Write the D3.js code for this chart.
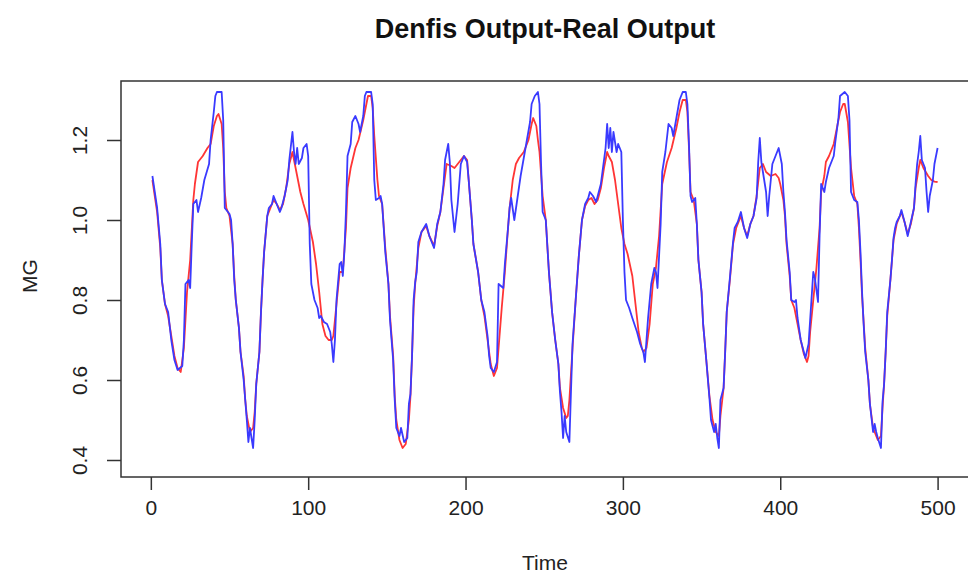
<!DOCTYPE html>
<html>
<head>
<meta charset="utf-8">
<script src="https://cdn.jsdelivr.net/npm/d3@7"></script>
<style>
  body { margin: 0; background: #fff; }
  text { font-family: "Liberation Sans", Arial, sans-serif; fill: #222; }
</style>
</head>
<body>
<div id="chart"></div>
<script>
// real output (blue)
let realTime = [1,4,6,7,9,11,13,15,17,20,21,22,24,25,26,27,29,30,32,34,37,38,40,41,42,45,46,47,50,51,52,53,54,56,57,59,60,61,62,63,64,65,66,67,69,70,71,72,74,75,77,78,80,82,83,85,87,88,90,91,92,93,94,96,97,99,100,101,102,104,106,107,108,110,112,114,115,116,117,118,120,121,122,123,124,125,127,128,130,132,133,135,136,137,140,141,142,143,145,146,147,149,151,152,154,155,156,158,159,161,163,164,165,166,167,168,169,170,172,175,177,180,182,184,186,187,189,190,191,193,195,196,197,199,201,202,204,205,208,210,212,214,215,216,218,220,221,224,225,227,228,229,231,233,235,237,239,241,242,244,246,247,248,249,251,253,255,257,259,260,261,262,263,264,266,267,268,270,272,274,276,278,279,281,283,284,286,287,289,290,291,292,293,294,296,297,299,300,301,302,304,306,309,311,313,314,315,316,318,320,321,322,324,325,327,329,331,332,334,336,338,340,341,342,343,344,346,347,348,350,351,353,355,356,358,359,360,361,362,364,365,366,368,370,371,373,375,377,379,381,383,385,386,387,388,390,391,392,393,395,397,398,399,401,402,403,404,406,407,409,410,411,413,415,416,418,419,421,422,424,425,426,428,429,431,434,435,437,438,441,443,444,445,447,449,450,451,452,453,454,456,457,459,460,461,462,464,465,466,467,468,470,471,472,473,474,476,477,479,481,483,485,486,487,488,489,490,492,493,494,495,497,498,500];
let realMG = [1.11,1.03,0.94,0.85,0.79,0.77,0.70,0.65,0.625,0.635,0.70,0.84,0.85,0.83,0.94,1.04,1.05,1.02,1.055,1.10,1.14,1.20,1.27,1.31,1.32,1.32,1.25,1.03,1.015,1.00,0.94,0.85,0.80,0.73,0.67,0.60,0.55,0.50,0.445,0.48,0.455,0.43,0.50,0.59,0.67,0.77,0.85,0.92,1.01,1.03,1.04,1.06,1.04,1.02,1.03,1.06,1.10,1.15,1.22,1.17,1.14,1.18,1.14,1.155,1.18,1.19,1.16,0.94,0.84,0.80,0.78,0.755,0.76,0.745,0.74,0.72,0.69,0.645,0.70,0.80,0.89,0.895,0.86,0.92,1.02,1.16,1.19,1.245,1.26,1.24,1.22,1.26,1.31,1.32,1.32,1.29,1.10,1.05,1.055,1.06,1.04,0.92,0.84,0.75,0.65,0.55,0.48,0.46,0.48,0.445,0.455,0.54,0.565,0.66,0.80,0.845,0.87,0.945,0.97,0.99,0.96,0.93,0.99,1.02,1.09,1.15,1.19,1.145,1.05,0.97,1.04,1.09,1.14,1.16,1.145,1.10,1.00,0.94,0.87,0.80,0.77,0.71,0.66,0.63,0.62,0.645,0.84,0.83,0.89,0.98,1.03,1.055,1.00,1.055,1.11,1.155,1.20,1.245,1.29,1.31,1.32,1.29,1.14,1.02,1.00,0.87,0.77,0.70,0.64,0.57,0.52,0.455,0.51,0.47,0.445,0.57,0.69,0.80,0.91,1.00,1.04,1.055,1.07,1.06,1.045,1.06,1.09,1.12,1.18,1.24,1.18,1.23,1.17,1.22,1.17,1.19,1.17,1.00,0.87,0.80,0.78,0.755,0.72,0.69,0.67,0.645,0.70,0.755,0.84,0.88,0.87,0.83,0.99,1.12,1.17,1.24,1.23,1.21,1.255,1.30,1.32,1.32,1.29,1.19,1.06,1.045,1.055,0.99,0.90,0.82,0.74,0.65,0.555,0.50,0.47,0.49,0.455,0.43,0.55,0.58,0.67,0.77,0.855,0.945,0.98,0.995,1.02,0.98,0.955,0.99,1.01,1.055,1.145,1.205,1.145,1.095,1.07,1.01,1.06,1.14,1.16,1.17,1.18,1.14,1.07,1.02,0.95,0.87,0.80,0.795,0.80,0.755,0.70,0.67,0.655,0.69,0.75,0.87,0.855,0.795,0.96,1.09,1.07,1.095,1.13,1.16,1.195,1.255,1.31,1.32,1.31,1.25,1.07,1.05,1.045,1.00,0.92,0.82,0.74,0.67,0.60,0.54,0.47,0.49,0.47,0.455,0.43,0.545,0.59,0.67,0.77,0.85,0.90,0.955,0.98,0.995,1.01,1.025,0.995,0.96,0.995,1.03,1.09,1.14,1.17,1.21,1.15,1.13,1.07,1.02,1.06,1.10,1.14,1.18];

// denfis output (red)
let denfisTime = [1,4,6,7,9,11,13,15,17,19,21,23,25,27,28,30,33,36,38,40,42,43,45,46,47,48,50,52,53,54,56,57,59,60,61,63,65,66,67,69,70,71,72,74,76,78,80,82,84,86,88,90,92,95,97,100,103,105,107,109,111,113,115,116,118,120,122,124,125,127,130,132,135,137,138,140,141,142,144,145,147,149,151,152,154,155,156,158,160,162,164,165,166,167,168,170,172,175,177,180,182,184,186,188,191,193,195,197,199,201,202,204,205,208,210,212,214,216,218,220,221,223,225,227,228,230,232,234,237,240,242,243,245,246,247,249,251,253,255,257,259,260,262,264,265,266,268,270,272,274,276,278,280,282,284,286,288,290,291,293,295,297,299,301,303,306,308,310,312,313,315,317,319,321,323,325,328,331,334,336,338,340,341,342,343,345,347,348,350,351,353,355,357,359,361,362,364,365,366,368,370,372,375,377,379,381,383,385,387,389,391,394,397,399,400,402,403,404,406,407,409,411,413,415,417,418,419,421,423,425,426,428,429,431,434,436,438,440,441,443,445,447,449,450,451,452,454,456,457,459,461,462,464,465,466,467,468,470,471,472,474,477,479,481,483,485,486,488,489,491,494,496,498,500];
let denfisMG = [1.10,1.02,0.93,0.85,0.79,0.76,0.71,0.66,0.63,0.62,0.68,0.82,0.90,1.05,1.09,1.145,1.16,1.18,1.19,1.235,1.26,1.265,1.24,1.18,1.07,1.03,1.01,0.94,0.86,0.80,0.73,0.67,0.61,0.55,0.51,0.47,0.48,0.52,0.59,0.67,0.77,0.85,0.92,1.01,1.03,1.05,1.04,1.025,1.04,1.08,1.14,1.17,1.13,1.07,1.04,1.00,0.945,0.89,0.82,0.74,0.71,0.70,0.70,0.71,0.79,0.87,0.87,0.98,1.08,1.13,1.18,1.20,1.25,1.29,1.31,1.31,1.28,1.21,1.10,1.06,1.04,0.93,0.84,0.76,0.66,0.56,0.50,0.45,0.43,0.44,0.50,0.56,0.66,0.78,0.84,0.93,0.97,0.985,0.96,0.935,0.985,1.02,1.08,1.14,1.135,1.13,1.14,1.15,1.16,1.15,1.10,1.00,0.94,0.87,0.80,0.76,0.70,0.64,0.61,0.63,0.68,0.78,0.87,0.98,1.03,1.10,1.14,1.155,1.17,1.20,1.24,1.255,1.235,1.20,1.17,1.06,1.00,0.87,0.77,0.70,0.64,0.58,0.53,0.505,0.51,0.55,0.68,0.80,0.91,1.00,1.035,1.05,1.055,1.04,1.05,1.08,1.13,1.17,1.16,1.145,1.10,1.04,0.98,0.94,0.915,0.86,0.79,0.72,0.68,0.67,0.68,0.74,0.84,0.88,0.96,1.09,1.145,1.18,1.23,1.27,1.30,1.30,1.27,1.18,1.07,1.05,0.99,0.90,0.82,0.74,0.65,0.56,0.50,0.47,0.46,0.51,0.58,0.67,0.77,0.85,0.94,0.98,1.01,0.98,0.96,0.99,1.01,1.06,1.13,1.14,1.12,1.11,1.115,1.105,1.09,1.05,1.01,0.94,0.86,0.80,0.78,0.74,0.70,0.665,0.645,0.66,0.72,0.80,0.88,0.98,1.07,1.11,1.145,1.16,1.19,1.23,1.27,1.29,1.29,1.245,1.13,1.06,1.04,0.98,0.90,0.81,0.68,0.60,0.54,0.48,0.46,0.45,0.46,0.53,0.59,0.67,0.76,0.85,0.90,0.95,0.99,1.02,0.995,0.965,0.99,1.03,1.08,1.13,1.15,1.13,1.11,1.10,1.096,1.095];

let xTicks = [0, 100, 200, 300, 400, 500];
let yTicks = [0.4, 0.6, 0.8, 1.0, 1.2];

let chart_width  = 968;
let chart_height = 575;
let box = { left: 121, top: 81, right: 969, bottom: 477 };

let svg = d3.select('#chart')
            .append('svg')
            .attr('width', chart_width)
            .attr('height', chart_height);

//scales
let x_scale = d3.scaleLinear()
        .domain([-18.96, 519.96])
        .range([box.left, box.right]);

let y_scale = d3.scaleLinear()
        .domain([0.3575, 1.3475])
        .range([box.bottom, box.top]);

//lines
let line = d3.line()
        .x(d => x_scale(d[0]))
        .y(d => y_scale(d[1]));

svg.append('path')
  .datum(d3.zip(denfisTime, denfisMG))
  .attr('d', line)
  .attr('fill', 'none')
  .attr('stroke', '#ff3535')
  .attr('stroke-width', 1.8)
  .attr('stroke-linejoin', 'round');

svg.append('path')
  .datum(d3.zip(realTime, realMG))
  .attr('d', line)
  .attr('fill', 'none')
  .attr('stroke', '#3a3aff')
  .attr('stroke-width', 1.8)
  .attr('stroke-linejoin', 'round');

//box
svg.append('rect')
  .attr('x', box.left)
  .attr('y', box.top)
  .attr('width', box.right - box.left)
  .attr('height', box.bottom - box.top)
  .attr('fill', 'none')
  .attr('stroke', '#333')
  .attr('stroke-width', 1.5);

//axis
let x_axis = d3.axisBottom(x_scale)
        .tickValues(xTicks)
        .tickSize(13)
        .tickSizeOuter(0)
        .tickPadding(10);

let gx = svg.append('g')
  .attr('transform', 'translate(0,' + box.bottom + ')')
  .call(x_axis);
gx.select('.domain').remove();
gx.selectAll('line').attr('stroke', '#333').attr('stroke-width', 1.5);
gx.selectAll('text').attr('font-size', 21).attr('fill', '#222')
  .attr('font-family', '"Liberation Sans", Arial, sans-serif');

let y_axis = d3.axisLeft(y_scale)
        .tickValues(yTicks)
        .tickFormat(d3.format('.1f'))
        .tickSize(14)
        .tickSizeOuter(0);

let gy = svg.append('g')
  .attr('transform', 'translate(' + box.left + ',0)')
  .call(y_axis);
gy.select('.domain').remove();
gy.selectAll('line').attr('stroke', '#333').attr('stroke-width', 1.5);
gy.selectAll('text')
  .attr('transform', 'rotate(-90)')
  .attr('x', 0)
  .attr('y', -41)
  .attr('dy', '0.35em')
  .attr('text-anchor', 'middle')
  .attr('font-size', 21)
  .attr('fill', '#222')
  .attr('font-family', '"Liberation Sans", Arial, sans-serif');

//labels
svg.append('text')
  .text('Denfis Output-Real Output')
  .attr('x', 545)
  .attr('y', 38)
  .attr('text-anchor', 'middle')
  .attr('font-size', 27)
  .attr('font-weight', 'bold')
  .style('fill', '#111');

svg.append('text')
  .text('Time')
  .attr('x', 545)
  .attr('y', 570)
  .attr('text-anchor', 'middle')
  .attr('font-size', 21);

svg.append('text')
  .text('MG')
  .attr('transform', 'translate(37,276) rotate(-90)')
  .attr('text-anchor', 'middle')
  .attr('font-size', 21);
</script>
</body>
</html>
